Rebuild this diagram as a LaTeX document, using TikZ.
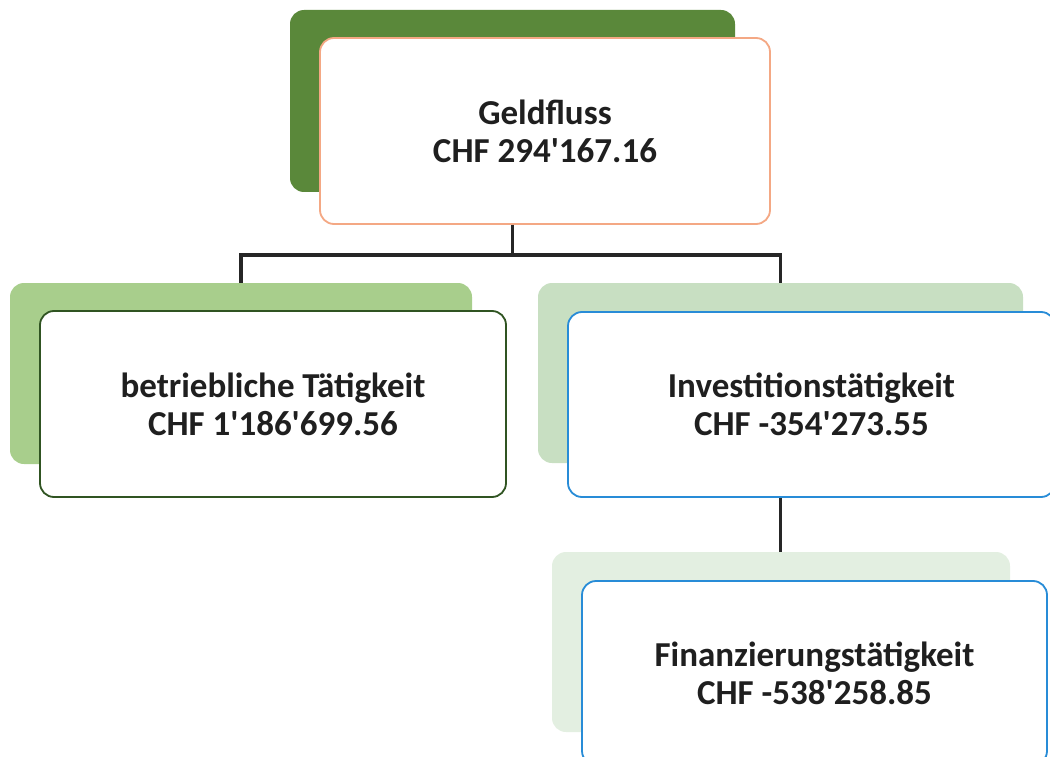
\documentclass[tikz,border=0pt]{standalone}
\usepackage{fontspec}
\setmainfont{Carlito}
\definecolor{topback}{RGB}{90,136,58}
\definecolor{topline}{RGB}{244,168,132}
\definecolor{leftback}{RGB}{168,206,140}
\definecolor{leftline}{RGB}{48,84,34}
\definecolor{rightback}{RGB}{200,223,194}
\definecolor{bottomback}{RGB}{227,239,225}
\definecolor{boxblue}{RGB}{40,140,215}
\newcommand{\ap}{\textquotesingle}
\tikzset{
  backbox/.style={rectangle, rounded corners=14pt, inner sep=0pt},
  frontbox/.style={rectangle, rounded corners=14pt, fill=white, line width=1.8pt,
    align=center, text=black!88, font=\bfseries\fontsize{35}{38}\selectfont},
  link/.style={line width=3.6pt, black!85}
}
\begin{document}
\begin{tikzpicture}[x=1pt, y=-1pt]
        \useasboundingbox (0,0) rectangle (1050,757);
        \clip (0,0) rectangle (1050,757);
        %% Back boxes
        \node[backbox, fill=topback, minimum width=445pt, minimum height=182pt] (geldBack) at (512.5,101) {};
        \node[backbox, fill=leftback, minimum width=462pt, minimum height=181pt] (betriebBack) at (241,373.5) {};
        \node[backbox, fill=rightback, minimum width=485pt, minimum height=180pt] (investBack) at (780.5,373) {};
        \node[backbox, fill=bottomback, minimum width=458pt, minimum height=180pt] (finanzBack) at (781,642) {};
        %% Front boxes
        \node[frontbox, draw=topline, minimum width=450pt, minimum height=186pt] (geld) at (545,131)
            {Geldfluss\\CHF 294\ap167.16};
        \node[frontbox, draw=leftline, minimum width=466pt, minimum height=186pt] (betrieb) at (273,404)
            {betriebliche Tätigkeit\\CHF 1\ap186\ap699.56};
        \node[frontbox, draw=boxblue, minimum width=487pt, minimum height=185pt] (invest) at (811.5,404.5)
            {Investitionstätigkeit\\CHF -354\ap273.55};
        \node[frontbox, draw=boxblue, minimum width=465pt, minimum height=184pt] (finanz) at (814.5,673)
            {Finanzierungstätigkeit\\CHF -538\ap258.85};
        %% Links
        \draw[link] (geldBack.south |- geld.south) -- ++(0,30) -| (betriebBack.north);
        \draw[link] (geldBack.south |- geld.south) -- ++(0,30) -| (investBack.north);
        \draw[link] (investBack.south |- invest.south) -- (investBack.south |- finanzBack.north);
    \end{tikzpicture}
\end{document}
